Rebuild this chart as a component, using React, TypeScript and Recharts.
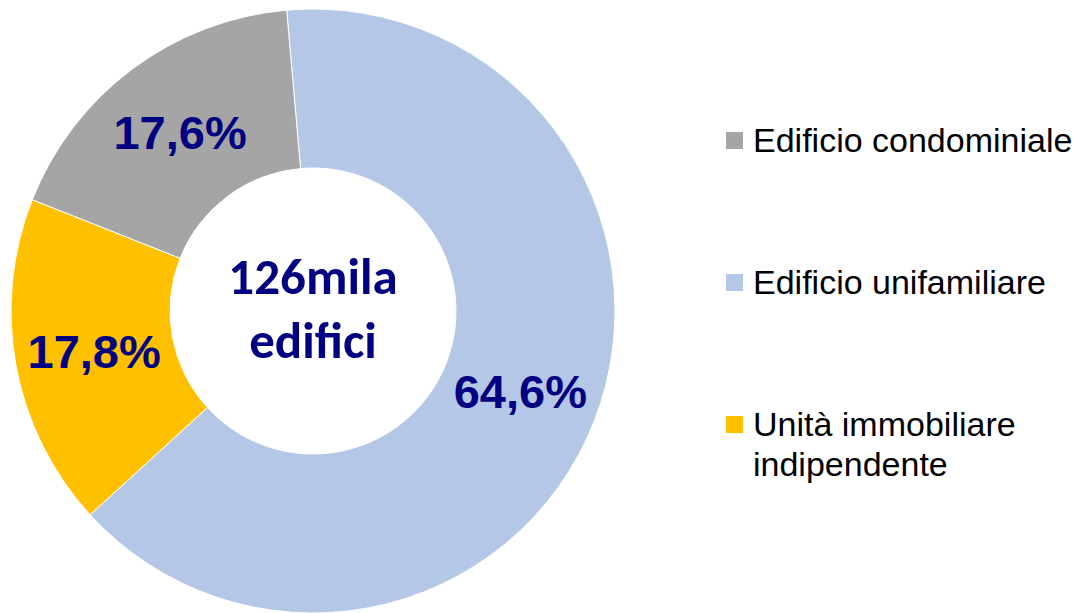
import React from 'react';
import { PieChart, Pie, Cell, Legend } from 'recharts';

// order follows the picture clockwise from the top
const categories = ['Edificio unifamiliare', 'Unità immobiliare indipendente', 'Edificio condominiale'];
const shares = [64.6, 17.8, 17.6];
const colors = ['#B4C7E7', '#FFC000', '#A5A5A5'];

// legend order as shown on the right
const legendOrder = ['Edificio condominiale', 'Edificio unifamiliare', 'Unità immobiliare indipendente'];
const legendLines: Record<string, string[]> = {
  'Edificio condominiale': ['Edificio condominiale'],
  'Edificio unifamiliare': ['Edificio unifamiliare'],
  'Unità immobiliare indipendente': ['Unità immobiliare', 'indipendente'],
};

const centerLines = ['126mila', 'edifici'];

const NAVY = '#000080';
const RAD = Math.PI / 180;
const ARIAL = "'Liberation Sans', Arial, sans-serif";

const data = categories.map((name, i) => ({ name, value: shares[i] }));

const renderLabel = (props: any) => {
  const { cx, cy, midAngle, innerRadius, outerRadius, value } = props;
  const r = (innerRadius + outerRadius) / 2;
  const x = cx + r * Math.cos(-midAngle * RAD);
  const y = cy + r * Math.sin(-midAngle * RAD);
  return (
    <text
      x={x}
      y={y}
      fill={NAVY}
      textAnchor="middle"
      dominantBaseline="central"
      fontFamily={ARIAL}
      fontWeight="bold"
      fontSize={47}
    >
      {value.toFixed(1).replace('.', ',')}%
    </text>
  );
};

const LegendBox = () => (
  <div style={{ fontFamily: ARIAL, fontSize: 34, color: '#000', lineHeight: '40px' }}>
    {legendOrder.map((name, i) => {
      const color = colors[categories.indexOf(name)];
      return (
        <div key={name} style={{ display: 'flex', alignItems: 'flex-start', marginBottom: 102 }}>
          <span style={{ width: 17, height: 17, background: color, marginTop: 12, marginRight: 10, flexShrink: 0 }} />
          <span>
            {legendLines[name].map((l) => (
              <div key={l}>{l}</div>
            ))}
          </span>
        </div>
      );
    })}
  </div>
);

const App: React.FC = () => {
  return (
    <div style={{ position: 'absolute', left: 0, top: 0, width: 1079, height: 613, background: '#fff' }}>
      <PieChart width={1079} height={613}>
        <Pie
          data={data}
          dataKey="value"
          nameKey="name"
          cx={308}
          cy={306}
          innerRadius={143}
          outerRadius={302}
          startAngle={95}
          endAngle={-265}
          stroke="#fff"
          strokeWidth={1}
          label={renderLabel}
          labelLine={false}
          isAnimationActive={false}
        >
          {data.map((entry, i) => (
            <Cell key={`cell-${i}`} fill={colors[i]} />
          ))}
        </Pie>
        <Legend
          layout="vertical"
          align="right"
          verticalAlign="top"
          content={<LegendBox />}
          wrapperStyle={{ left: 726, top: 120, width: 353 }}
        />
        <text
          x={313}
          y={276}
          textAnchor="middle"
          dominantBaseline="central"
          fill={NAVY}
          fontFamily="Carlito, Calibri, Lato, sans-serif"
          fontWeight="bold"
          fontSize={51}
        >
          {centerLines[0]}
        </text>
        <text
          x={313}
          y={340}
          textAnchor="middle"
          dominantBaseline="central"
          fill={NAVY}
          fontFamily="Carlito, Calibri, Lato, sans-serif"
          fontWeight="bold"
          fontSize={51}
        >
          {centerLines[1]}
        </text>
      </PieChart>
    </div>
  );
};

export default App;
